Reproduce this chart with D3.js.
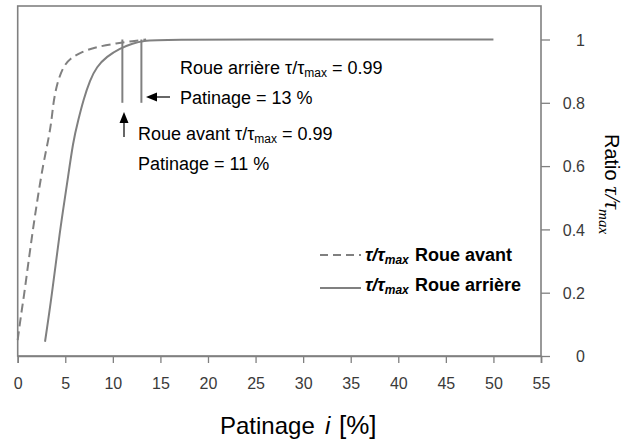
<!DOCTYPE html>
<html>
<head>
<meta charset="utf-8">
<script src="https://cdn.jsdelivr.net/npm/d3@7/dist/d3.min.js"></script>
<style>
  body { margin: 0; background: #fff; }
  svg { display: block; }
  text { font-family: "Liberation Sans", Arial, sans-serif; }
</style>
</head>
<body>
<svg id="chart" width="625" height="443"></svg>
<script>
// ---- Data ----
const xTicks = [0, 5, 10, 15, 20, 25, 30, 35, 40, 45, 50, 55];
const yTicks = [0, 0.2, 0.4, 0.6, 0.8, 1];
const yTickLabels = ["0", "0.2", "0.4", "0.6", "0.8", "1"];

// front wheel (dashed): slip % and ratio
const avantX = [0, 0.3, 0.66, 1.1, 1.6, 2.1, 2.7, 3.22, 3.57, 3.74, 4.16, 4.79, 5.49, 6.72, 8.3, 10.4, 12.1, 13.5];
const avantY = [0.05, 0.12, 0.19, 0.29, 0.40, 0.50, 0.61, 0.682, 0.746, 0.80, 0.865, 0.914, 0.94, 0.961, 0.977, 0.988, 0.995, 1.0];

// rear wheel (solid)
const arriereX = [2.87, 3.57, 4.44, 5.15, 5.84, 6.37, 6.9, 7.6, 8.3, 9.35, 10.75, 12.1, 13.2, 15, 30, 50];
const arriereY = [0.045, 0.187, 0.398, 0.535, 0.682, 0.746, 0.809, 0.872, 0.914, 0.946, 0.972, 0.988, 0.996, 1, 1, 1];

// vertical marker lines at 0.99 ratio
const markerX = [11, 13];
const markerY0 = [0.8, 0.8];
const markerY1 = [1.0, 1.0];

const legendLabels = ["Roue avant", "Roue arrière"];

// ---- Layout ----
const svg = d3.select("#chart");
const x = d3.scaleLinear().domain([0, 55]).range([17.7, 541]);
const y = d3.scaleLinear().domain([0, 1]).range([356, 39.5]);
const gray = "#808080";

// frame
svg.append("rect")
  .attr("x", x(0)).attr("y", 6)
  .attr("width", x(55) - x(0)).attr("height", y(0) - 6)
  .attr("fill", "none").attr("stroke", gray).attr("stroke-width", 1.6);

// x axis
const xAxis = svg.append("g").attr("transform", `translate(0,${y(0)})`)
  .call(d3.axisBottom(x).tickValues(xTicks).tickSize(7).tickFormat(d3.format("d")));
xAxis.select(".domain").attr("stroke", gray).attr("stroke-width", 1.6);
xAxis.selectAll(".tick line").attr("stroke", gray).attr("stroke-width", 1.3);
xAxis.selectAll(".tick text").attr("y", 33).attr("dy", 0)
  .attr("font-size", 16).attr("fill", "#3a3a3a")
  .attr("font-family", "'Liberation Sans', Arial, sans-serif");

// y axis on right
const yAxis = svg.append("g").attr("transform", `translate(${x(55)},0)`)
  .call(d3.axisRight(y).tickValues(yTicks).tickSize(9)
    .tickFormat((d, i) => yTickLabels[i]));
yAxis.select(".domain").remove();
yAxis.selectAll(".tick line").attr("stroke", gray).attr("stroke-width", 1.3);
yAxis.selectAll(".tick text").attr("x", 44).attr("text-anchor", "end")
  .attr("dy", "0.36em").attr("font-size", 16).attr("fill", "#3a3a3a")
  .attr("font-family", "'Liberation Sans', Arial, sans-serif");

// curves
const line = d3.line().x(d => x(d[0])).y(d => y(d[1])).curve(d3.curveBasis);
svg.append("path")
  .datum(avantX.map((v, i) => [v, avantY[i]]))
  .attr("d", line).attr("fill", "none").attr("stroke", gray)
  .attr("stroke-width", 2).attr("stroke-dasharray", "9,5");
svg.append("path")
  .datum(arriereX.map((v, i) => [v, arriereY[i]]))
  .attr("d", line).attr("fill", "none").attr("stroke", gray)
  .attr("stroke-width", 2);

// marker lines
markerX.forEach((mx, i) => {
  svg.append("line")
    .attr("x1", x(mx)).attr("x2", x(mx))
    .attr("y1", y(markerY0[i])).attr("y2", y(markerY1[i]))
    .attr("stroke", gray).attr("stroke-width", 2);
});

// arrows
svg.append("line").attr("x1", 124).attr("x2", 124).attr("y1", 121).attr("y2", 137)
  .attr("stroke", "#000").attr("stroke-width", 1.2);
svg.append("path").attr("d", "M124,112 L119.5,123 L128.5,123 Z").attr("fill", "#000");
svg.append("line").attr("x1", 155).attr("x2", 170).attr("y1", 97).attr("y2", 97)
  .attr("stroke", "#000").attr("stroke-width", 1.2);
svg.append("path").attr("d", "M146,97 L157,92.5 L157,101.5 Z").attr("fill", "#000");

// annotation texts
function tauText(xp, yp, prefix, suffix) {
  const t = svg.append("text").attr("x", xp).attr("y", yp).attr("font-size", 18).attr("fill", "#000");
  t.append("tspan").text(prefix + "τ/τ");
  t.append("tspan").attr("font-size", 12).attr("dy", 3).text("max");
  t.append("tspan").attr("dy", -3).text(suffix);
}
tauText(180, 74, "Roue arrière ", " = 0.99");
svg.append("text").attr("x", 180).attr("y", 104).attr("font-size", 18).text("Patinage = 13 %");
tauText(138, 140, "Roue avant ", " = 0.99");
svg.append("text").attr("x", 138).attr("y", 170).attr("font-size", 18).text("Patinage = 11 %");

// legend
const legY = [255, 288];
const legBase = [261, 291];
legendLabels.forEach((lab, i) => {
  svg.append("line").attr("x1", 320).attr("x2", 361).attr("y1", legY[i]).attr("y2", legY[i])
    .attr("stroke", gray).attr("stroke-width", 1.8)
    .attr("stroke-dasharray", i === 0 ? "8,5" : null);
  const t = svg.append("text").attr("x", 365).attr("y", legBase[i])
    .attr("font-size", 18).attr("font-weight", "bold").attr("fill", "#000");
  t.append("tspan").attr("font-style", "italic").text("τ/τ");
  t.append("tspan").attr("font-style", "italic").attr("font-size", 12).attr("dy", 3).text("max");
  t.append("tspan").attr("dy", -3).attr("x", 415).text(lab);
});

// x axis title
const xt = svg.append("text").attr("x", 220).attr("y", 434).attr("font-size", 24).attr("fill", "#000");
xt.append("tspan").text("Patinage");
xt.append("tspan").attr("x", 325).attr("font-style", "italic").text("i");
xt.append("tspan").attr("x", 339).attr("font-size", 26).text("[%]");

// y axis title (rotated)
const yt = svg.append("text").attr("transform", "translate(605,134) rotate(90)")
  .attr("font-size", 20).attr("fill", "#000");
yt.append("tspan").text("Ratio ");
yt.append("tspan").attr("font-family", "'Liberation Serif', 'Times New Roman', serif")
  .attr("font-style", "italic").attr("font-size", 23).text("τ/τ");
yt.append("tspan").attr("font-family", "'Liberation Serif', 'Times New Roman', serif")
  .attr("font-style", "italic").attr("font-size", 15).attr("dy", 6).text("max");
</script>
</body>
</html>
